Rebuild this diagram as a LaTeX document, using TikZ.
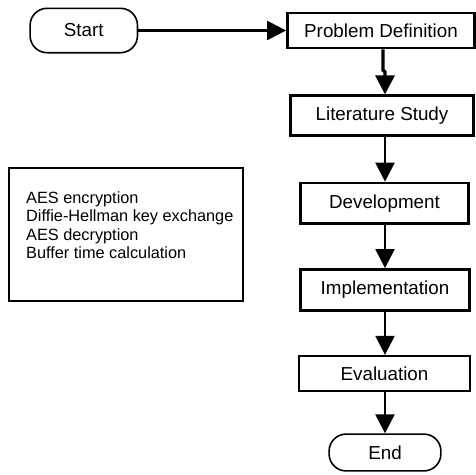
\documentclass[tikz,border=0pt]{standalone}
\usepackage{fontspec}
\setmainfont{Liberation Sans}
\usetikzlibrary{arrows.meta}
\begin{document}
\begin{tikzpicture}[x=1pt,y=-1pt,
  box/.style={draw,line width=2.8pt,rectangle,inner sep=0pt,font=\fontsize{18.8}{22}\selectfont},
  thinbox/.style={box,line width=2.3pt},
  term/.style={draw,line width=1.6pt,rounded corners=17pt,inner sep=0pt,font=\fontsize{18.8}{22}\selectfont},
  conn/.style={line width=2.3pt,-{Triangle[length=19pt,width=19pt]}},
  note/.style={inner sep=0pt,align=left,font=\fontsize{16.3}{18.2}\selectfont}]
\useasboundingbox (0,0) rectangle (476,474);
\node[term,minimum width=107.4pt,minimum height=44.4pt] (start) at (83.8,30.5) {Start};
\node[box,minimum width=187pt,minimum height=35pt] (pd) at (381,30.5) {Problem Definition};
\node[box,minimum width=183pt,minimum height=39.5pt] (lit) at (382,115.5) {Literature Study};
\node[box,minimum width=168pt,minimum height=40.5pt] (dev) at (384.5,203.3) {Development};
\node[box,minimum width=169pt,minimum height=41pt] (impl) at (385,290) {Implementation};
\node[thinbox,minimum width=171pt,minimum height=35pt] (eval) at (384.5,373.5) {Evaluation};
\node[term,minimum width=111.8pt,minimum height=36.8pt] (end) at (385,452.5) {End};
\node[thinbox,minimum width=233.7pt,minimum height=132.7pt] (tasks) at (126,234.5) {};
\node[note,anchor=north west] (tasktext) at (26,191.6) {AES encryption\\Diffie-Hellman key exchange\\AES decryption\\Buffer time calculation};
\coordinate (j1) at (383,70);
\coordinate (j2) at (385,72);
\draw[conn] (start) -- (pd);
\draw[conn,line width=3.3pt] (pd.south -| j1) -- (j1) -- (j2) -- (lit.north -| j2);
\draw[conn] (lit.south -| j2) -- (dev.north -| j2);
\draw[conn] (dev.south -| j2) -- (impl.north -| j2);
\draw[conn] (impl.south -| j2) -- (eval.north -| j2);
\draw[conn] (eval.south -| j2) -- (end.north -| j2);
\end{tikzpicture}
\end{document}
